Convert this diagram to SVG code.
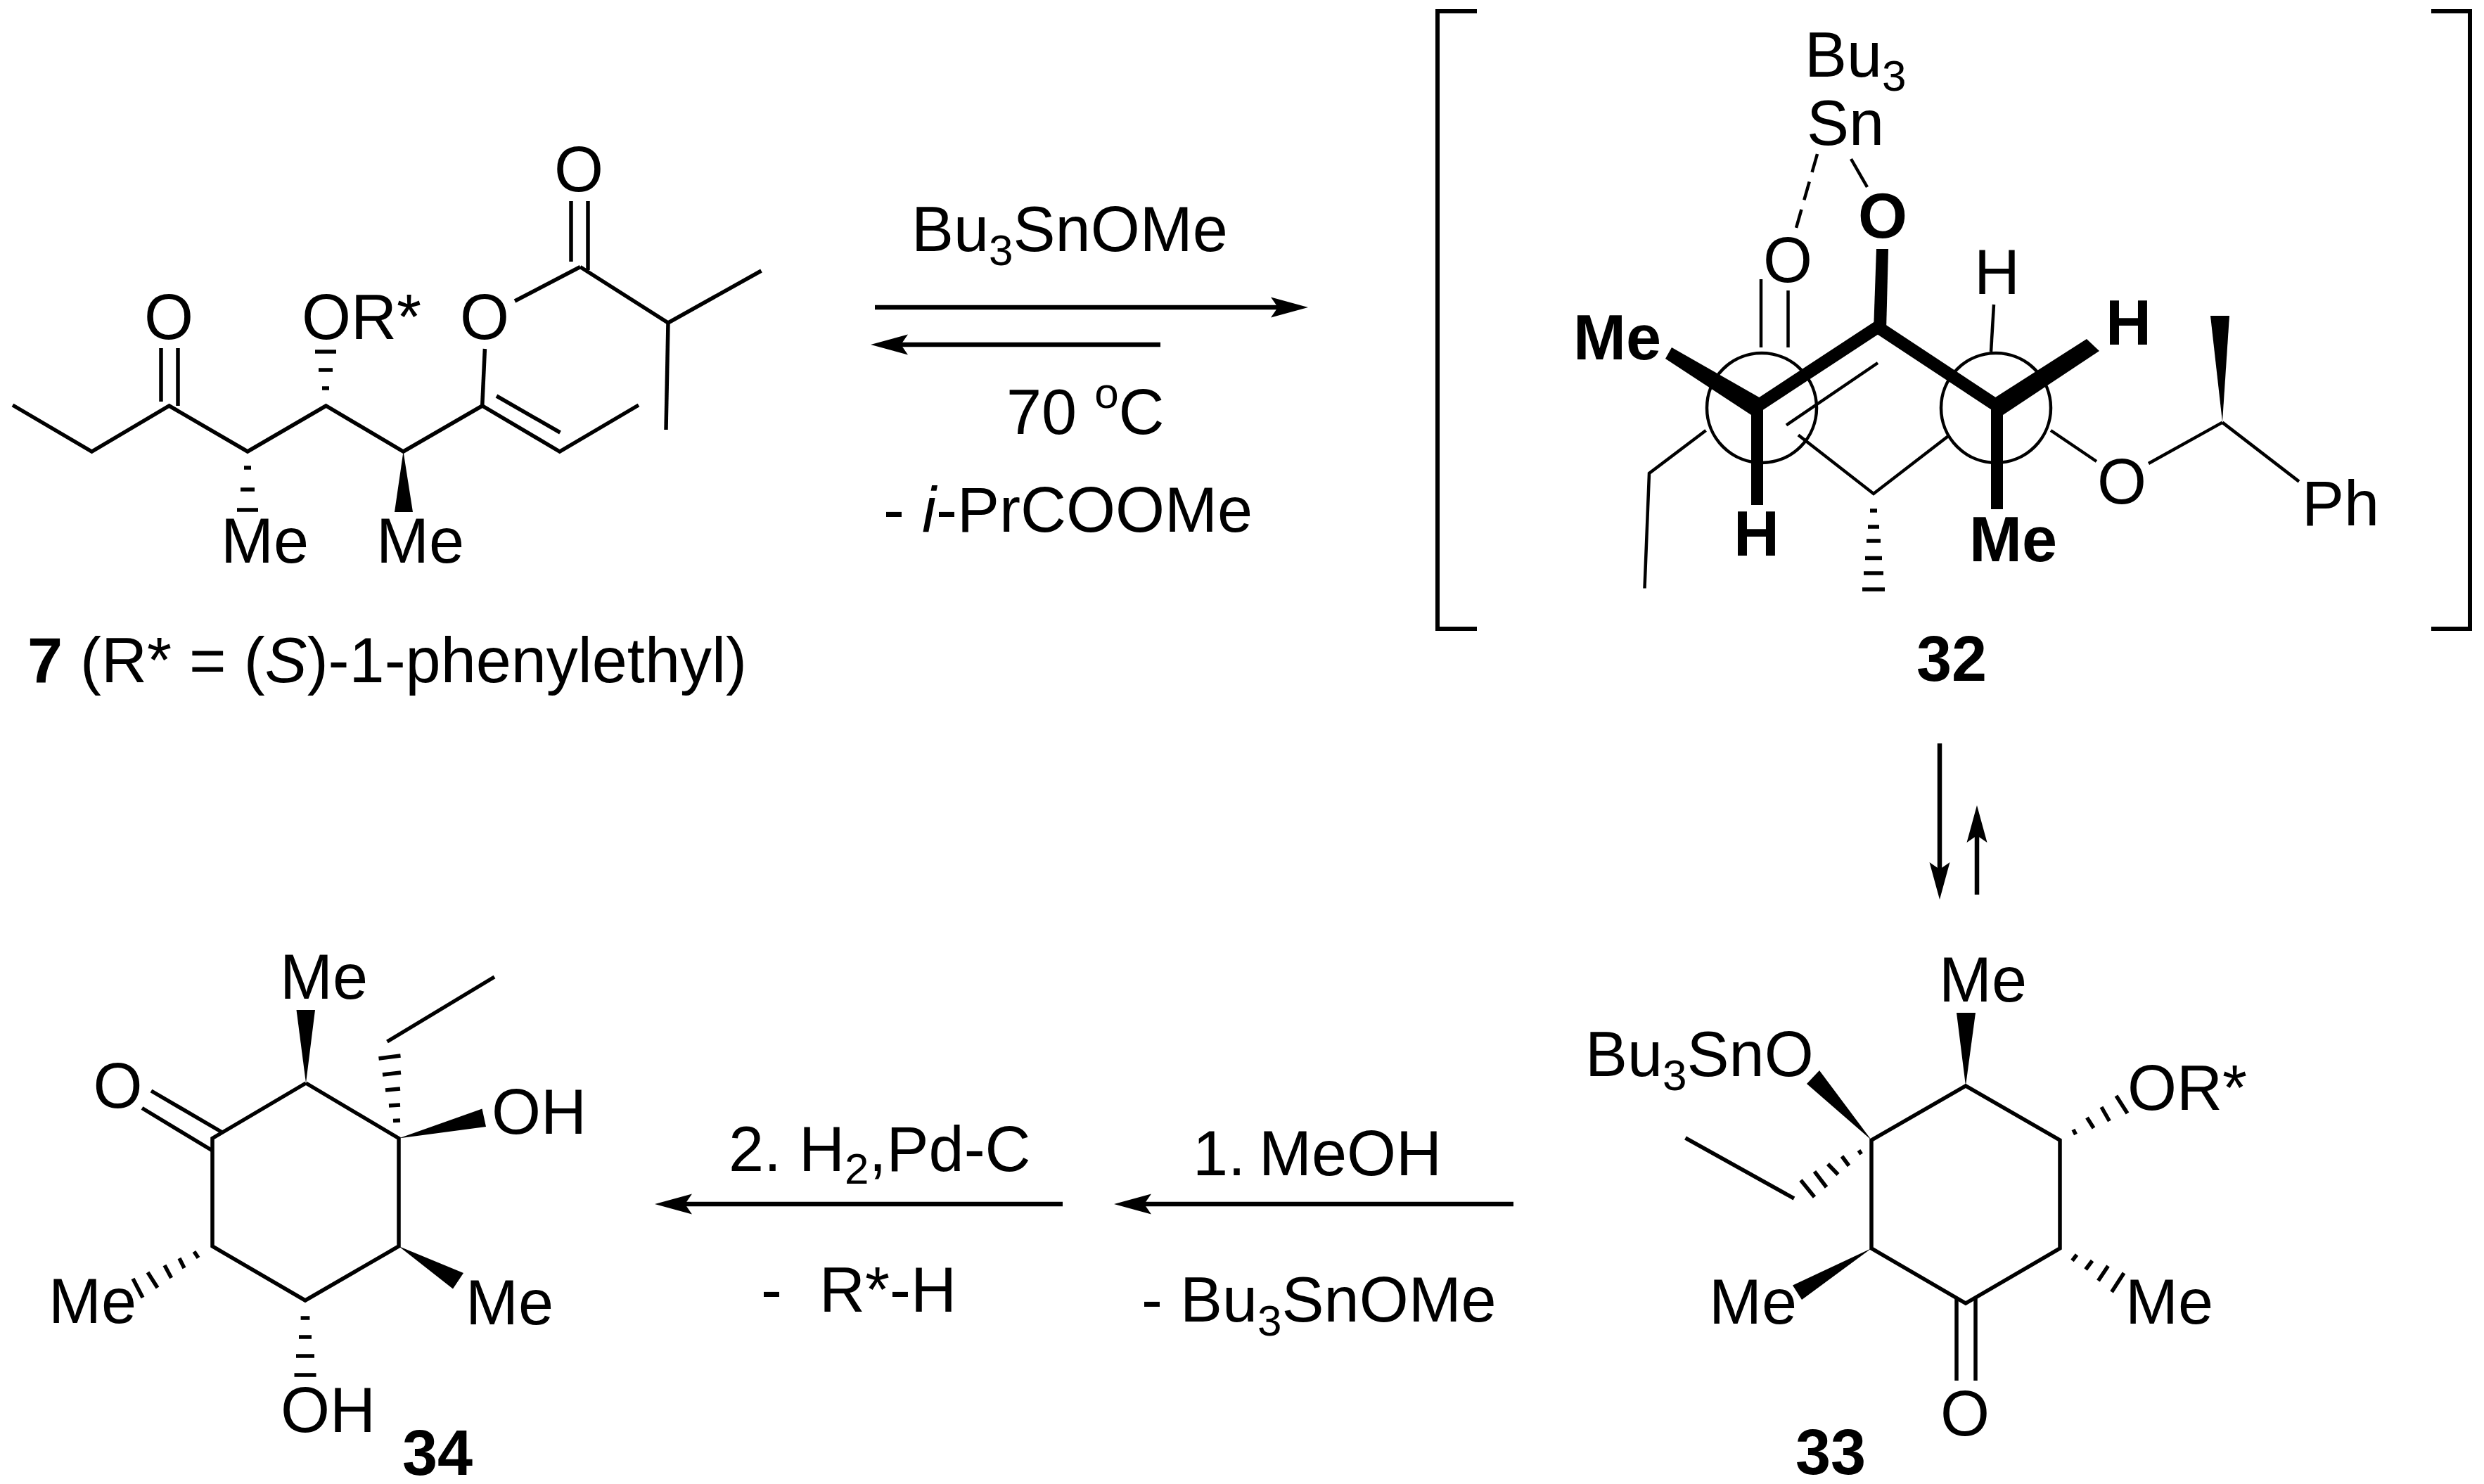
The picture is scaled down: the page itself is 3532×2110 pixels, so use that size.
<svg xmlns="http://www.w3.org/2000/svg" width="3532" height="2110" viewBox="0 0 3532 2110">
<style>
text{font-family:"Liberation Sans",Arial,sans-serif;font-size:90px;fill:#000}
.b{font-weight:bold}
.c{text-anchor:middle}
.e{text-anchor:end}
.s{font-size:62px}
line,polyline{stroke:#000;stroke-width:5.5;fill:none}
.t{stroke-width:4.5}
.h{stroke-width:5.5}
.w{fill:#000;stroke:none}
.k{stroke-width:18}
.br{stroke-width:6}
circle{fill:none;stroke:#000;stroke-width:4.5}
.a{stroke-width:6.5;marker-end:url(#ah)}
</style>
<defs>
<marker id="ah" markerUnits="userSpaceOnUse" markerWidth="60" markerHeight="32" viewBox="0 -16 60 32" refX="12" refY="0" orient="auto"><path d="M0 -14.5L53 0L0 14.5L10 0Z" fill="#000"/></marker>
</defs>
<rect width="3532" height="2110" fill="#fff"/>

<g id="connectors">
<line class="a" x1="1244" y1="437" x2="1819" y2="437"/>
<line class="a" x1="1650" y1="490" x2="1279" y2="490"/>
<line class="a" x1="2758" y1="1057" x2="2758" y2="1238"/>
<line class="a" x1="2811" y1="1272" x2="2811" y2="1186"/>
<line class="a" x1="1511" y1="1712" x2="972" y2="1712"/>
<line class="a" x1="2152" y1="1712" x2="1625" y2="1712"/>
</g>

<g id="conditions">
<text x="1296" y="357">Bu<tspan class="s" dy="20">3</tspan><tspan dy="-20">SnOMe</tspan></text>
<text x="1431" y="617">70 <tspan class="s" dy="-37">o</tspan><tspan dy="37">C</tspan></text>
<text x="1256" y="756">- <tspan font-style="italic">i</tspan>-PrCOOMe</text>
<text x="1036" y="1665">2. H<tspan class="s" dy="18">2</tspan><tspan dy="-18">,Pd-C</tspan></text>
<text x="1696" y="1671">1. <tspan x="1790">MeOH</tspan></text>
<text x="1082" y="1865">- <tspan x="1165">R*-H</tspan></text>
<text x="1623" y="1879">- Bu<tspan class="s" dy="20">3</tspan><tspan dy="-20">SnOMe</tspan></text>
</g>

<g id="compound-7">
<polyline points="18,576 130.5,642 240.6,577 352,642 463.5,577 573.5,642 685.7,577 795.8,642 908,576"/>
<line x1="706" y1="563" x2="796.5" y2="615"/>
<line x1="685.7" y1="577" x2="689.4" y2="496"/>
<line x1="229" y1="495" x2="229" y2="571"/>
<line x1="253" y1="495" x2="253" y2="577"/>
<line x1="732" y1="428" x2="825" y2="379.5"/>
<line x1="812" y1="286" x2="812" y2="372"/>
<line x1="836" y1="286" x2="836" y2="384"/>
<polyline points="825,379.5 950,459 1082.5,385"/>
<line x1="950" y1="459" x2="947" y2="611"/>
<g class="h">
<line x1="448" y1="500" x2="478" y2="500"/><line x1="453" y1="526" x2="473" y2="526"/><line x1="458" y1="552" x2="468" y2="552"/>
<line x1="347" y1="665" x2="357" y2="665"/><line x1="342" y1="696" x2="362" y2="696"/><line x1="337" y1="725" x2="367" y2="725"/>
</g>
<polygon class="w" points="573.5,642 561,728 587,728"/>
<text class="c" x="240" y="482">O</text>
<text x="429" y="482">OR*</text>
<text class="c" x="689" y="482">O</text>
<text class="c" x="823" y="272">O</text>
<text x="314" y="800">Me</text>
<text x="535" y="800">Me</text>
<text x="39" y="970"><tspan class="b">7</tspan> (R* = (<tspan font-style="italic">S</tspan>)-1-phenylethyl)</text>
</g>

<g id="compound-32">
<polyline class="br" points="2100,16 2044,16 2044,894 2100,894"/>
<polyline class="br" points="3457,16 3512,16 3512,894 3457,894"/>
<text x="2566" y="109">Bu<tspan class="s" dy="20">3</tspan></text>
<text x="2569" y="206">Sn</text>
<line class="t" x1="2584" y1="219" x2="2554" y2="324" stroke-dasharray="27,14"/>
<line class="t" x1="2632" y1="226" x2="2655" y2="266"/>
<text class="c b" x="2677" y="338">O</text>
<text class="c" x="2542" y="401">O</text>
<line class="t" x1="2504" y1="397" x2="2504" y2="494"/>
<line class="t" x1="2542.5" y1="413" x2="2542.5" y2="494"/>
<polygon class="w" points="2668,354 2685,354 2682,470 2664,470"/>
<polyline class="k" points="2499.4,577 2670,465 2839.5,577"/>
<polygon class="w" points="2377,494 2368,510 2490,590 2505,567"/>
<polygon class="w" points="2967,482 2985,499 2848,590 2834,567"/>
<polygon class="w" points="2490,575 2507,575 2507,718 2490,718"/>
<polygon class="w" points="2831,575 2848,575 2848,724 2831,724"/>
<circle cx="2505" cy="580" r="78"/>
<circle cx="2838" cy="580" r="78"/>
<text class="b" x="2237" y="511">Me</text>
<text class="b" x="2994" y="490">H</text>
<text class="b" x="2465" y="790">H</text>
<text class="b" x="2800" y="798">Me</text>
<text x="2807" y="418">H</text>
<line class="t" x1="2835" y1="433" x2="2831" y2="500"/>
<line class="t" x1="2670" y1="516" x2="2540" y2="604.5"/>
<polyline class="t" points="2557,618.6 2664,702 2769.6,620.5"/>
<polyline class="t" points="2425.6,612 2345,673 2338.5,836.5"/>
<g class="h">
<line x1="2659" y1="726" x2="2669" y2="726"/><line x1="2656" y1="749" x2="2672" y2="749"/><line x1="2654" y1="769" x2="2674" y2="769"/><line x1="2652" y1="793.5" x2="2676" y2="793.5"/><line x1="2650" y1="815" x2="2678" y2="815"/><line x1="2648" y1="838" x2="2680" y2="838"/>
</g>
<text class="c" x="3017" y="716">O</text>
<line class="t" x1="2916" y1="612" x2="2981" y2="656"/>
<line class="t" x1="3055" y1="659" x2="3160" y2="600.6"/>
<polygon class="w" points="3160,600 3143,449 3170,449"/>
<line class="t" x1="3160" y1="600.6" x2="3269" y2="684.6"/>
<text x="3273" y="747">Ph</text>
<text class="b" x="2725" y="968">32</text>
</g>

<g id="compound-33">
<polygon points="2795,1544 2929,1621 2929,1775 2795,1853 2661,1775 2661,1621" fill="none" stroke="#000" stroke-width="5.5"/>
<text x="2757" y="1424">Me</text>
<polygon class="w" points="2795,1544 2782,1440 2809,1440"/>
<text x="2254" y="1530">Bu<tspan class="s" dy="20">3</tspan><tspan dy="-20">SnO</tspan></text>
<polygon class="w" points="2661,1621 2569,1541 2587,1522"/>
<line x1="2551" y1="1704" x2="2396.5" y2="1618"/>
<line x1="2643" y1="1635.5" x2="2646.6" y2="1641"/><line x1="2619" y1="1644" x2="2629" y2="1657.5"/><line x1="2599" y1="1655" x2="2613.5" y2="1670"/><line x1="2580" y1="1665.6" x2="2597" y2="1688"/><line x1="2560.5" y1="1678" x2="2580" y2="1702"/>
<text x="3025" y="1578">OR*</text>
<line x1="2948" y1="1606" x2="2951.5" y2="1613"/><line x1="2967.5" y1="1589" x2="2977" y2="1604"/><line x1="2988" y1="1574" x2="2999.4" y2="1594"/><line x1="3009" y1="1558" x2="3025" y2="1583"/>
<text x="3022" y="1882">Me</text>
<line x1="2946.5" y1="1792.5" x2="2953" y2="1784"/><line x1="2965.6" y1="1805" x2="2975" y2="1792.5"/><line x1="2983.5" y1="1821" x2="2997.5" y2="1800"/><line x1="3002.6" y1="1837" x2="3020" y2="1810"/>
<text x="2430" y="1882">Me</text>
<polygon class="w" points="2661,1775 2549,1827.5 2562,1848"/>
<line x1="2782" y1="1846" x2="2782" y2="1963"/>
<line x1="2809" y1="1846" x2="2809" y2="1963"/>
<text class="c" x="2794" y="2041">O</text>
<text class="b" x="2553" y="2096">33</text>
</g>

<g id="compound-34">
<polyline points="435,1540 567,1618.5 567,1772 434,1849 302,1772 302,1618.5 435,1540"/>
<line x1="215" y1="1551" x2="316" y2="1610"/>
<line x1="202" y1="1575.5" x2="302" y2="1636"/>
<text class="c" x="167.5" y="1575">O</text>
<text x="398" y="1420">Me</text>
<polygon class="w" points="435,1540 421.5,1436 448,1436"/>
<line x1="538.5" y1="1505" x2="569.5" y2="1501"/><line x1="544" y1="1528" x2="570" y2="1525"/><line x1="548" y1="1550" x2="569" y2="1548"/><line x1="553" y1="1572" x2="569" y2="1571"/><line x1="559" y1="1593.5" x2="569" y2="1593"/>
<line x1="550.5" y1="1481" x2="703" y2="1389"/>
<polygon class="w" points="567,1618.5 685.5,1576.5 691,1602"/>
<text x="699" y="1612">OH</text>
<polygon class="w" points="567,1772 659,1810 644,1832.6"/>
<text x="662" y="1883">Me</text>
<text x="69" y="1881">Me</text>
<line x1="276" y1="1779.5" x2="282" y2="1788.6"/><line x1="255" y1="1789" x2="262" y2="1803"/><line x1="234" y1="1799" x2="243.6" y2="1817"/><line x1="210" y1="1809" x2="224" y2="1831"/><line x1="189" y1="1818" x2="203" y2="1845"/>
<line x1="427.6" y1="1874" x2="440.4" y2="1874"/><line x1="425" y1="1901" x2="443" y2="1901"/><line x1="421" y1="1928" x2="447" y2="1928"/><line x1="418.5" y1="1955" x2="449.5" y2="1955"/>
<text x="399" y="2036">OH</text>
<text class="b" x="572" y="2097">34</text>
</g>
</svg>
